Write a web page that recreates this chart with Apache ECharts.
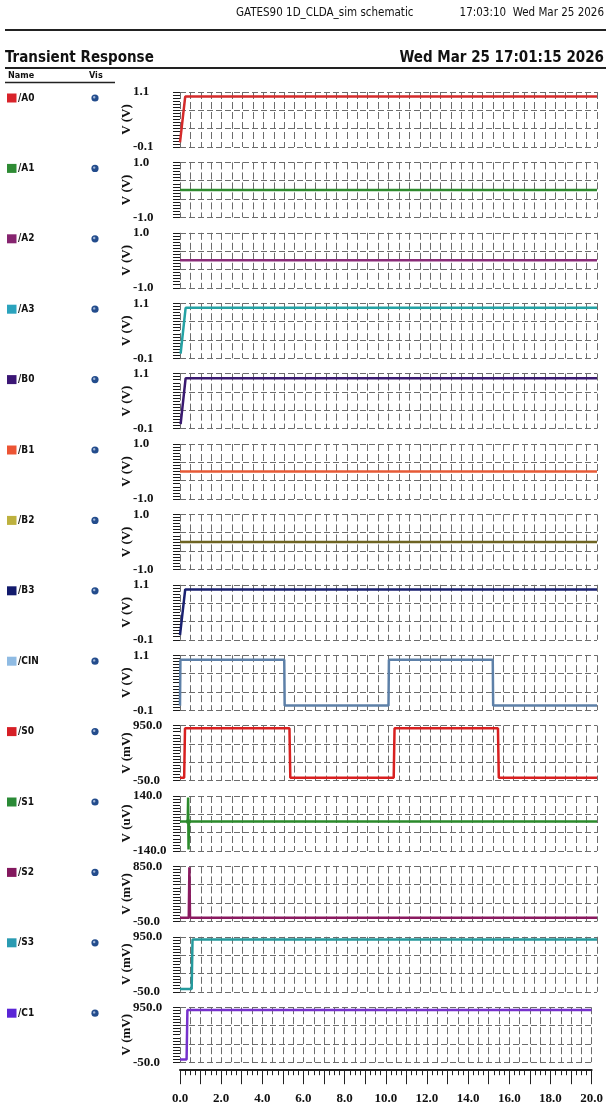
<!DOCTYPE html>
<html>
<head>
<meta charset="utf-8">
<script src="https://cdn.jsdelivr.net/npm/echarts@6/dist/echarts.min.js"></script>
<style>
  html, body { margin: 0; padding: 0; background: #fff; }
  #main { width: 606px; height: 1110px; }
</style>
</head>
<body>
<div id="main"></div>
<script>
// signal names and legend colours
var names = ['/A0', '/A1', '/A2', '/A3', '/B0', '/B1', '/B2', '/B3', '/CIN', '/S0', '/S1', '/S2', '/S3', '/C1'];
var swatchColors = ['#d8232a', '#2e8b34', '#86246f', '#2ba3bd', '#3b1675', '#ec5434', '#bdb13e', '#121a6c', '#8fbbe3', '#d61f26', '#2a8a36', '#83185e', '#2a9bb2', '#5a25d6'];
var lineColors = ['#d42a2a', '#2f8a2f', '#8a2c78', '#25a2a4', '#3a1a70', '#e65a36', '#6e6423', '#1a2170', '#5d80a8', '#d82020', '#2b8a2b', '#8a1a60', '#24999c', '#7631cc'];

// y axis ranges and units (as printed on the strips)
var yMin = [-0.1, -1.0, -1.0, -0.1, -0.1, -1.0, -1.0, -0.1, -0.1, -50, -140, -50, -50, -50];
var yMax = [1.1, 1.0, 1.0, 1.1, 1.1, 1.0, 1.0, 1.1, 1.1, 950, 140, 850, 950, 950];
var yUnits = ['V (V)', 'V (V)', 'V (V)', 'V (V)', 'V (V)', 'V (V)', 'V (V)', 'V (V)', 'V (V)', 'V (mV)', 'V (uV)', 'V (mV)', 'V (mV)', 'V (mV)'];

// time axis (ns)
var tMin = 0;
var tMax = 20;
var xLabels = [0, 2, 4, 6, 8, 10, 12, 14, 16, 18, 20];

// waveforms [t, v]
var a0 = [[0, 0], [0.25, 1.0], [20, 1.0]];
var a1 = [[0, 0], [20, 0]];
var a2 = [[0, 0], [20, 0]];
var a3 = [[0.03, 0], [0.27, 1.0], [20, 1.0]];
var b0 = [[0.03, 0], [0.27, 1.0], [20, 1.0]];
var b1 = [[0, 0], [20, 0]];
var b2 = [[0, 0], [20, 0]];
var b3 = [[0, 0], [0.25, 1.0], [20, 1.0]];
var cin = [[0, 0], [0.02, 1.0], [5.0, 1.0], [5.02, 0], [10.0, 0], [10.02, 1.0], [15.0, 1.0], [15.02, 0], [20, 0]];
var s0 = [[0, 0], [0.2, 0], [0.24, 900], [5.25, 900], [5.29, 0], [10.25, 0], [10.29, 900], [15.25, 900], [15.29, 0], [20, 0]];
var s1 = [[0, 10], [0.37, 10], [0.39, 132], [0.41, -132], [0.43, 10], [20, 10]];
var s1Dot = [[0.4, 10]];
var s2 = [[0, 10], [0.42, 10], [0.45, 835], [0.48, 10], [20, 10]];
var s3 = [[0, 0], [0.56, 0], [0.6, 900], [20, 900]];
var c1 = [[0, 0], [0.32, 0], [0.36, 900], [20, 900]];
var waves = [a0, a1, a2, a3, b0, b1, b2, b3, cin, s0, s1, s2, s3, c1];

(function() {
	var serif = '"Liberation Serif", "DejaVu Serif", serif';
	var narrow = '"Liberation Sans Narrow", "DejaVu Sans Condensed", "Liberation Sans", sans-serif';

	var top0 = 92;      // top of first strip
	var pitch = 70.4;   // strip spacing
	var stripH = 55;
	var left = 180;
	var right = 9;
	var gridColor = '#6c6c6c';

	var grids = [], xAxes = [], yAxes = [], series = [], graphics = [];

	for (var i = 0; i < names.length; i++) {
		var top = top0 + i * pitch;
		grids.push({ left: left, right: right, top: top, height: stripH, containLabel: false });

		xAxes.push({
			gridIndex: i, type: 'value', min: tMin, max: tMax, interval: 0.5,
			axisLine: { show: false }, axisTick: { show: false }, axisLabel: { show: false },
			splitLine: { show: true, lineStyle: { color: gridColor, width: 1, type: [7, 3] } }
		});

		var lo = yMin[i], hi = yMax[i];
		yAxes.push({
			gridIndex: i, type: 'value', min: lo, max: hi, interval: (hi - lo) / 3,
			offset: 3,
			axisLine: { show: false },
			axisTick: { show: true, length: 7, lineStyle: { color: '#1a1a1a', width: 1 } },
			minorTick: { show: true, splitNumber: 6, length: 7, lineStyle: { color: '#1a1a1a', width: 1 } },
			axisLabel: {
				customValues: [lo, hi], align: 'left', margin: 44,
				fontFamily: serif, fontWeight: 'bold', fontSize: 13, color: '#111',
				formatter: function(v) { return (+v).toFixed(1); }
			},
			splitLine: { show: true, lineStyle: { color: gridColor, width: 1, type: [6, 3] } },
			name: yUnits[i], nameLocation: 'middle', nameRotate: 90, nameGap: 44,
			nameMoveOverlap: false,
			nameTextStyle: { fontFamily: serif, fontWeight: 'bold', fontSize: 13, color: '#111' }
		});

		series.push({
			name: names[i], type: 'line', xAxisIndex: i, yAxisIndex: i,
			data: waves[i], showSymbol: false, symbol: 'none',
			lineStyle: { color: lineColors[i], width: 2.5 },
			animation: false, silent: true
		});

		// legend row: swatch, name, vis dot
		var ly = top + 6;
		graphics.push({ type: 'rect', shape: { x: 7, y: ly - 4.5, width: 9.5, height: 9 }, style: { fill: swatchColors[i] } });
		graphics.push({ type: 'text', x: 18, y: ly, style: { text: names[i], font: 'bold 10px ' + narrow, fill: '#111', verticalAlign: 'middle' } });
		graphics.push({ type: 'circle', shape: { cx: 95, cy: ly, r: 3.6 }, style: { fill: '#234c8c' } });
		graphics.push({ type: 'circle', shape: { cx: 94.2, cy: ly - 0.8, r: 1.2 }, style: { fill: '#9fb4d6' } });
	}

	// little glitch dot on /S1
	series.push({
		type: 'scatter', xAxisIndex: 10, yAxisIndex: 10, data: s1Dot,
		symbolSize: 5, itemStyle: { color: lineColors[10] }, animation: false, silent: true
	});

	// shared time axis under the last strip
	xAxes.push({
		gridIndex: names.length - 1, type: 'value', min: tMin, max: tMax, interval: 1,
		position: 'bottom', offset: 8,
		axisLine: { show: true, lineStyle: { color: '#222', width: 2 } },
		axisTick: { show: true, length: 14, lineStyle: { color: '#222', width: 1 } },
		minorTick: { show: true, splitNumber: 4, length: 5, lineStyle: { color: '#222', width: 1 } },
		axisLabel: {
			customValues: xLabels, margin: 22,
			fontFamily: serif, fontWeight: 'bold', fontSize: 13, color: '#111',
			formatter: function(v) { return (+v).toFixed(1); }
		},
		splitLine: { show: false }
	});

	// page header
	graphics.push({ type: 'text', x: 236, y: 13, style: { text: 'GATES90 1D_CLDA_sim schematic', font: '11.5px ' + narrow, fill: '#111', verticalAlign: 'middle' } });
	graphics.push({ type: 'text', x: 604, y: 13, style: { text: '17:03:10  Wed Mar 25 2026', font: '11.5px ' + narrow, fill: '#111', align: 'right', verticalAlign: 'middle' } });
	graphics.push({ type: 'line', shape: { x1: 5, y1: 30, x2: 606, y2: 30 }, style: { stroke: '#222', lineWidth: 2 } });
	graphics.push({ type: 'text', x: 5, y: 58, style: { text: 'Transient Response', font: 'bold 15px ' + narrow, fill: '#111', verticalAlign: 'middle' } });
	graphics.push({ type: 'text', x: 604, y: 58, style: { text: 'Wed Mar 25 17:01:15 2026', font: 'bold 15px ' + narrow, fill: '#111', align: 'right', verticalAlign: 'middle' } });
	graphics.push({ type: 'line', shape: { x1: 5, y1: 68, x2: 606, y2: 68 }, style: { stroke: '#222', lineWidth: 2 } });
	graphics.push({ type: 'text', x: 8, y: 75.5, style: { text: 'Name', font: 'bold 9px ' + narrow, fill: '#111', verticalAlign: 'middle' } });
	graphics.push({ type: 'text', x: 89, y: 75.5, style: { text: 'Vis', font: 'bold 9px ' + narrow, fill: '#111', verticalAlign: 'middle' } });
	graphics.push({ type: 'line', shape: { x1: 5, y1: 82.5, x2: 115, y2: 82.5 }, style: { stroke: '#222', lineWidth: 1.5 } });

	var myChart = echarts.init(document.getElementById('main'), null, { renderer: 'canvas' });
	var option = {
		backgroundColor: '#ffffff',
		animation: false,
		grid: grids,
		xAxis: xAxes,
		yAxis: yAxes,
		series: series,
		graphic: { elements: graphics }
	};
	myChart.setOption(option);
})();
</script>
</body>
</html>
